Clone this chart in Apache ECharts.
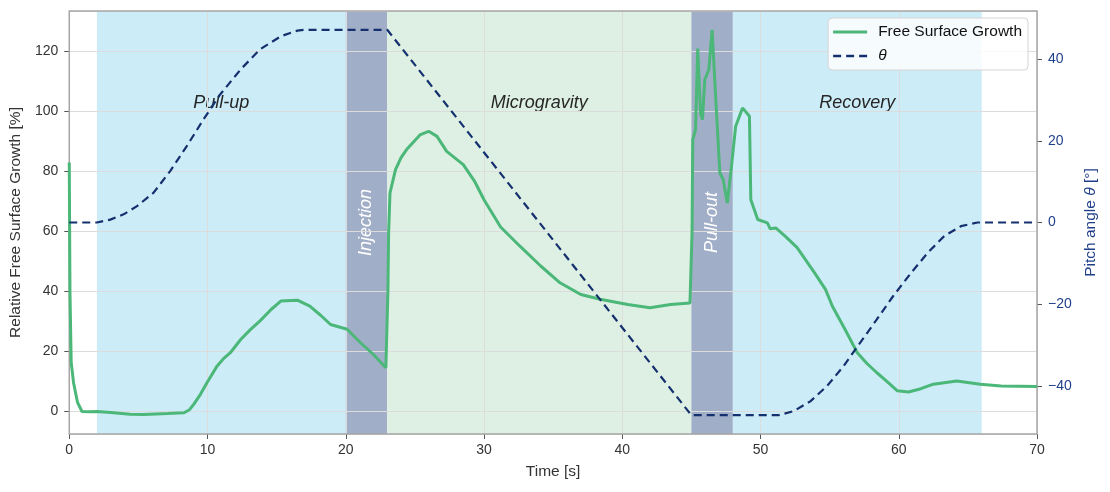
<!DOCTYPE html>
<html>
<head>
<meta charset="utf-8">
<script src="https://cdn.jsdelivr.net/npm/echarts@6/dist/echarts.min.js"></script>
<style>
  html, body { margin: 0; padding: 0; background: #fff; }
  #main { width: 1110px; height: 492px; }
</style>
</head>
<body>
<div id="main"></div>
<script>
// free surface growth
var fsgTime = [0, 0.05, 0.14, 0.31, 0.6, 0.92, 1.5, 2.0, 3.0, 4.4, 5.4, 7.1, 8.3, 8.7, 9.0, 9.5, 9.96,
  10.7, 11.2, 11.65, 12.4, 13.1, 13.8, 14.6, 15.3, 16.5, 17.4, 18.2, 18.9, 20.1, 21.05, 22.0, 22.9,
  22.99, 23.05, 23.1, 23.2, 23.6, 24.0, 24.4, 25.0, 25.4, 26.0, 26.6, 27.3, 28.5, 29.3, 30.0, 31.2, 32.6,
  34.1, 35.5, 37.0, 38.4, 40.4, 42.0, 43.5, 44.9, 45.0, 45.05, 45.1, 45.3, 45.46, 45.66,
  45.8, 45.97, 46.26, 46.5, 46.74, 47.06, 47.3, 47.6, 47.9, 48.2, 48.7, 49.2, 49.3, 49.8,
  50.5, 50.7, 51.1, 51.8, 52.65, 53.9, 54.7, 55.2, 56.1, 57.0, 57.7, 58.4, 59.2, 59.9, 60.7, 61.6, 62.5, 64.2,
  65.9, 67.4, 70];
var fsgValue = [83, 40, 16.4, 9.6, 3, 0, -0.1, 0, -0.3, -0.9, -1.0, -0.7, -0.4, 0.6, 2.4, 5.8, 9.6,
  15.2, 17.8, 19.6, 24, 27.3, 30.2, 34, 36.8, 37.1, 35.1, 32, 29, 27.4, 23, 19, 14.6,
  15.2, 40, 59.6, 72.9, 80.6, 84.6, 87.3, 90.3, 92.3, 93.4, 91.7, 86.7, 82.3, 76.9, 70.6, 61.5, 55.1,
  48.5, 42.9, 39, 37.4, 35.7, 34.6, 35.7, 36.2, 36.2, 60, 90.6, 94, 121, 99.5,
  97.3, 110.6, 113.9, 127.2, 106.2, 79.5, 77.3, 69.5, 81.7, 95, 101.2, 98.4, 70.6, 64,
  62.9, 60.9, 61.2, 58.4, 54.6, 46.3, 40.7, 35.1, 27.5, 19.6, 16, 13, 9.8, 6.9, 6.5, 7.6, 9.1, 10.2,
  9.1, 8.5, 8.3];

// pitch angle
var thetaTime = [0, 2, 2.97, 3.93, 4.9, 6.1, 7.3, 8.5, 9.7, 10.9, 12.4, 13.8, 15.3, 16.5, 17,
  23, 45, 51.3, 52.4, 53.6, 54.8, 56.0, 57.2, 58.4, 59.6, 60.9, 62.1, 63.3, 64.5, 65.7, 70];
var thetaValue = [0, 0, 0.7, 2, 4, 7.3, 12.6, 18.7, 25.2, 31.3, 37.5, 42.4, 45.6, 47, 47.2,
  47.2, -47.2, -47.2, -46.2, -43.8, -40.1, -35.2, -29.5, -23.8, -18.0, -12.3, -7.4, -3.3, -0.9, 0, 0];

// flight phases
var phaseNames = ['Pull-up', 'Injection', 'Microgravity', 'Pull-out', 'Recovery'];
var phaseStart = [2, 20, 23, 45, 48];
var phaseEnd = [20, 23, 45, 48, 66];
var phaseColors = ['#ccecf7', '#a1aec8', '#ddf0e3', '#a1aec8', '#ccecf7'];
var phaseVertical = [false, true, false, true, false];

function pairs(xs, ys) {
  return xs.map(function (x, i) { return [x, ys[i]]; });
}

var areas = phaseNames.map(function (name, i) {
  var label = phaseVertical[i]
    ? { show: true, position: 'inside', rotate: 90, color: '#ffffff', fontSize: 18, fontStyle: 'italic' }
    : { show: true, position: 'insideTop', distance: 83, color: '#262626', fontSize: 18, fontStyle: 'italic' };
  return [
    { name: name, xAxis: phaseStart[i], itemStyle: { color: phaseColors[i] }, label: label },
    { xAxis: phaseEnd[i] }
  ];
});

var textFont = 'Liberation Sans, Arial, sans-serif';
var rightBlue = '#1f3f8a';
var tick = { show: true, length: 5, lineStyle: { color: '#555' } };

var option = {
  animation: false,
  textStyle: { fontFamily: textFont },
  grid: {
    left: 69, right: 73, top: 11, bottom: 58,
    show: true, borderColor: '#a6a6a6', borderWidth: 1.5, z: 3
  },
  legend: {
    orient: 'vertical',
    right: 82, top: 18,
    data: [
      { name: 'Free Surface Growth', icon: 'path://M0,0H34V3H0Z' },
      { name: 'θ', icon: 'path://M0,0H8V2.4H0Z M13,0H21V2.4H13Z M26,0H34V2.4H26Z' }
    ],
    backgroundColor: 'rgba(255,255,255,0.82)',
    borderColor: '#d4d4d4', borderWidth: 1, borderRadius: 4,
    padding: [6, 6, 6, 5],
    itemWidth: 34, itemHeight: 14, itemGap: 8,
    textStyle: {
      fontSize: 15.5, color: '#111', fontFamily: textFont, padding: [0, 0, 0, 6],
      rich: { i: { fontStyle: 'italic', fontSize: 15.5 } }
    },
    formatter: function (n) { return n === 'θ' ? '{i|θ}' : n; }
  },
  xAxis: {
    type: 'value', min: 0, max: 70, interval: 10, z: 2,
    name: 'Time [s]', nameLocation: 'middle', nameGap: 30,
    nameTextStyle: { fontSize: 15.5, color: '#333' },
    axisLine: { show: false, onZero: false },
    axisTick: tick,
    axisLabel: { fontSize: 14, color: '#333', margin: 9 },
    splitLine: { show: true, lineStyle: { color: '#dcdcdc', width: 1 } }
  },
  yAxis: [
    {
      type: 'value', min: -7.5, max: 133.5, splitNumber: 7, minInterval: 20, maxInterval: 20, z: 2,
      name: 'Relative Free Surface Growth [%]', nameLocation: 'middle', nameGap: 44, nameRotate: 90,
      nameTextStyle: { fontSize: 15.5, color: '#333' },
      axisLine: { show: false, onZero: false },
      axisTick: tick,
      axisLabel: { fontSize: 14, color: '#333', margin: 11, showMinLabel: false, showMaxLabel: false },
      splitLine: { show: true, lineStyle: { color: '#dcdcdc', width: 1 } }
    },
    {
      type: 'value', position: 'right', min: -51.8, max: 51.8, splitNumber: 5, minInterval: 20, maxInterval: 20, z: 2,
      name: 'Pitch angle {i|θ} [°]', nameLocation: 'middle', nameGap: 45, nameRotate: 90,
      nameTextStyle: { fontSize: 15.5, color: rightBlue, rich: { i: { fontStyle: 'italic', fontSize: 15.5, color: rightBlue } } },
      axisLine: { show: false, onZero: false },
      axisTick: tick,
      axisLabel: {
        fontSize: 14, color: rightBlue, margin: 11, showMinLabel: false, showMaxLabel: false,
        formatter: function (v) { return String(v).replace('-', '\u2212'); }
      },
      splitLine: { show: false }
    }
  ],
  series: [
    {
      name: 'phases', type: 'line', data: [], z: 1, silent: true,
      markArea: { silent: true, data: areas }
    },
    {
      name: 'Free Surface Growth', type: 'line', yAxisIndex: 0, z: 5,
      data: pairs(fsgTime, fsgValue),
      showSymbol: false, symbol: 'none',
      lineStyle: { color: '#4bb778', width: 3 },
      itemStyle: { color: '#4bb778' }
    },
    {
      name: 'θ', type: 'line', yAxisIndex: 1, z: 5,
      data: pairs(thetaTime, thetaValue),
      showSymbol: false, symbol: 'none',
      lineStyle: { color: '#14306e', width: 2.2, type: [8, 5] },
      itemStyle: { color: '#14306e' }
    }
  ]
};

echarts.init(document.getElementById('main')).setOption(option);
</script>
</body>
</html>
